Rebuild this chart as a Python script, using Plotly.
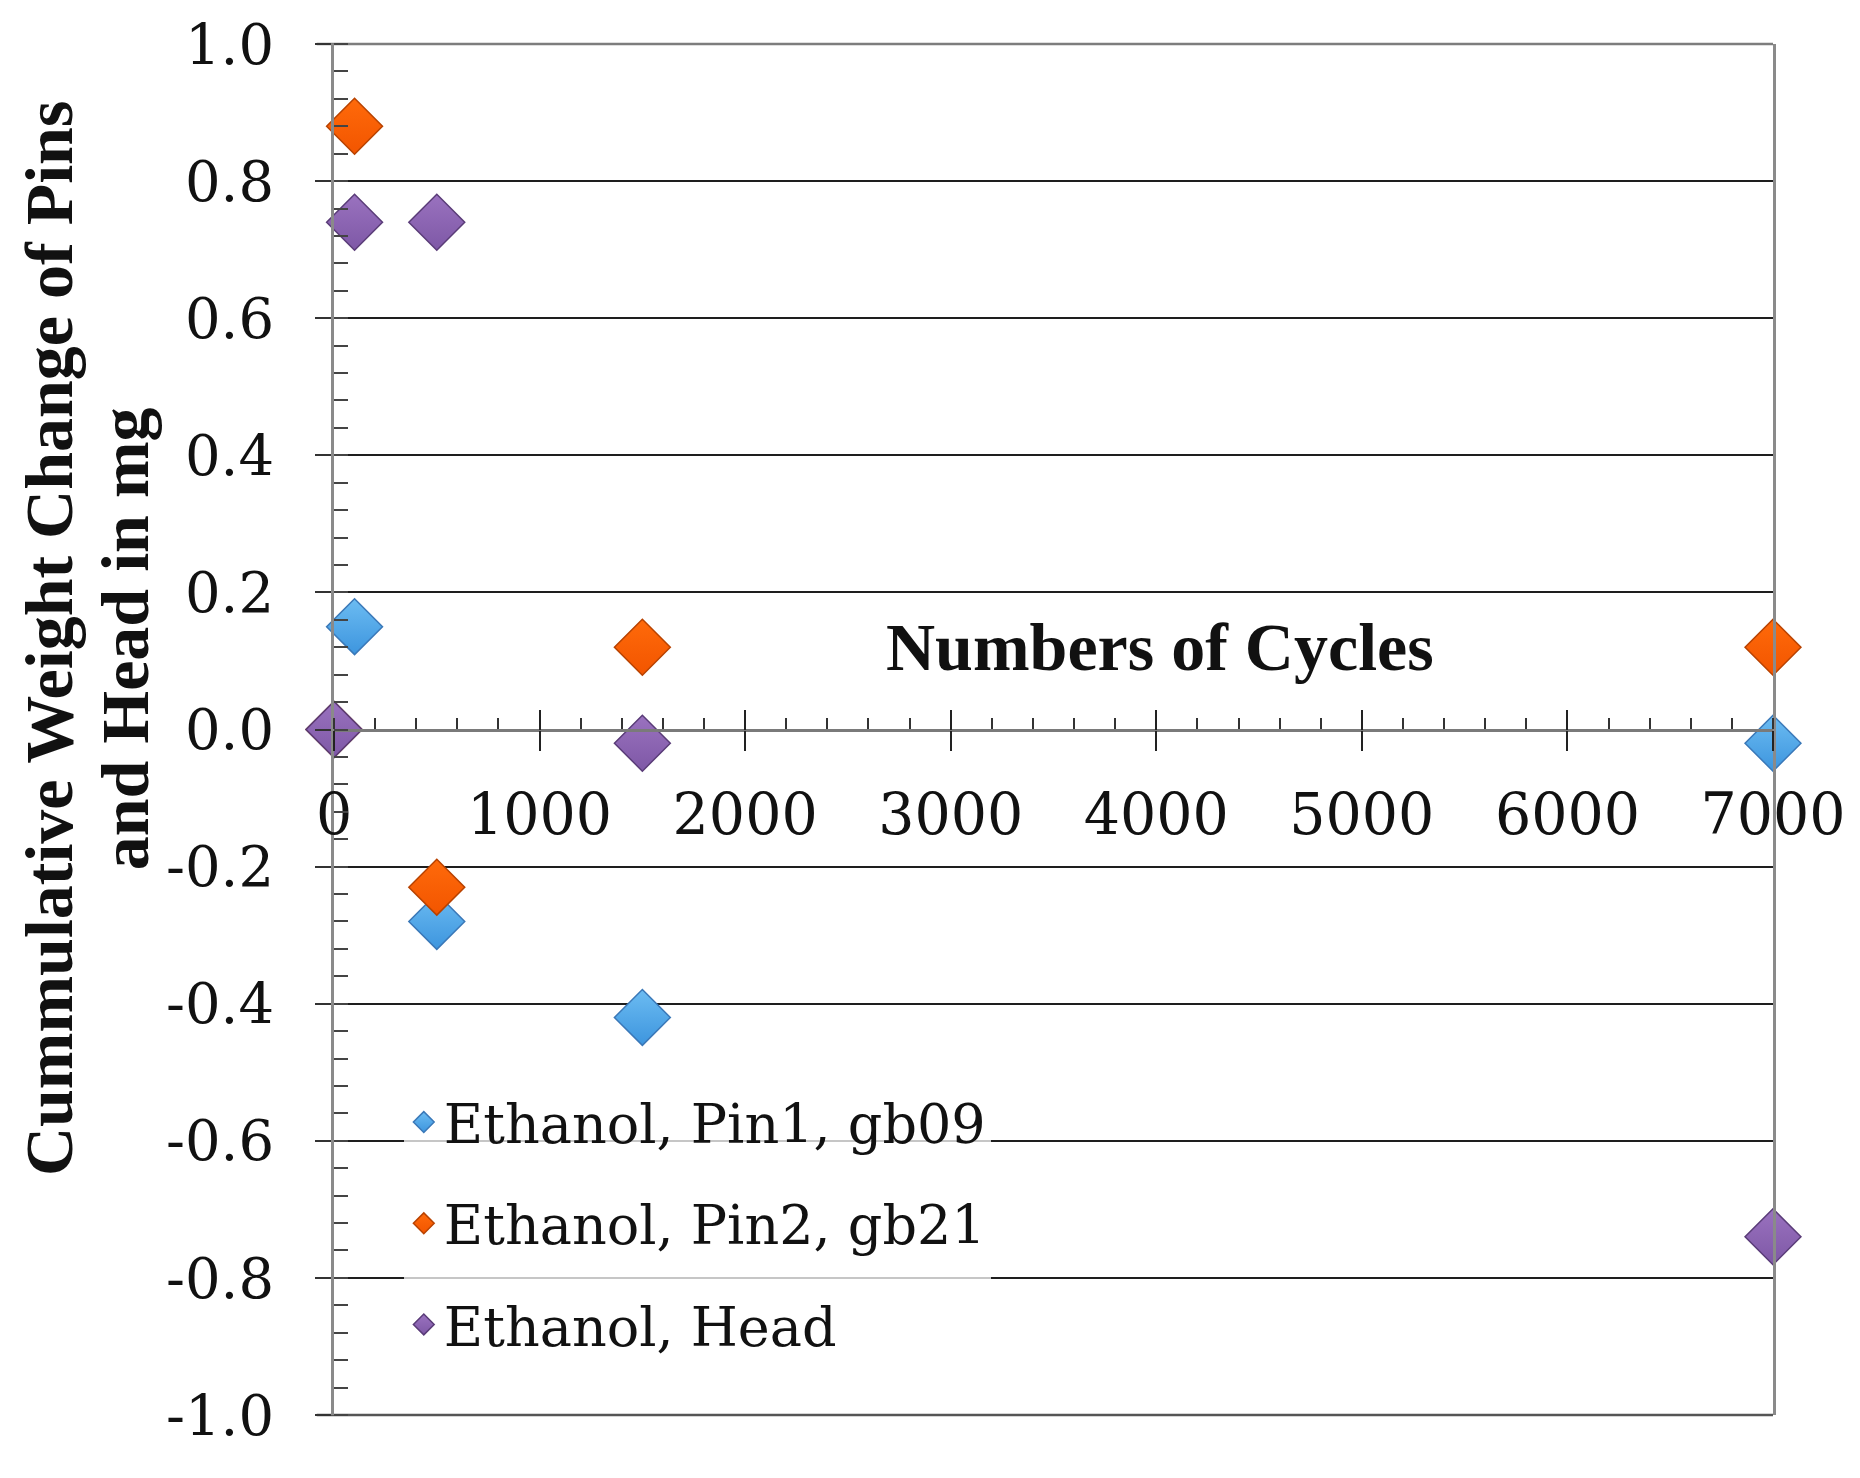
import plotly.graph_objects as go

# ---- data ----
cycles = [0, 100, 500, 1500, 7000]
pin1_gb09 = [0.0, 0.15, -0.28, -0.42, -0.02]
pin2_gb21 = [0.0, 0.88, -0.23, 0.12, 0.12]
head = [0.0, 0.74, 0.74, -0.02, -0.74]

series_names = ["Ethanol, Pin1, gb09", "Ethanol, Pin2, gb21", "Ethanol, Head"]
x_tick_vals = [0, 1000, 2000, 3000, 4000, 5000, 6000, 7000]
x_tick_text = ["0", "1000", "2000", "3000", "4000", "5000", "6000", "7000"]
y_tick_vals = [-1.0, -0.8, -0.6, -0.4, -0.2, 0.0, 0.2, 0.4, 0.6, 0.8, 1.0]
y_tick_text = ["-1.0", "-0.8", "-0.6", "-0.4", "-0.2", "0.0", "0.2", "0.4", "0.6", "0.8", "1.0"]

x_title = "Numbers of Cycles"
y_title_lines = ["Cummulative Weight Change of Pins", "and Head in mg"]

fills = ["#6cbcf2", "#ff6a0a", "#9a72bf"]
ends = ["#3d95de", "#f25500", "#7e58a6"]
borders = ["#3a78b8", "#b84200", "#5a3c78"]

SERIF = "DejaVu Serif"
TITLE_FONT = "Liberation Serif"

fig = go.Figure()
for name, ys, fc, ec, bc in zip(series_names, [pin1_gb09, pin2_gb21, head], fills, ends, borders):
    fig.add_trace(go.Scatter(
        x=cycles, y=ys, mode="markers", name=name, legendgroup=name,
        cliponaxis=False,
        marker=dict(symbol="diamond", size=43, color=fc,
                    gradient=dict(type="vertical", color=ec),
                    line=dict(color=bc, width=1.5)),
    ))

# secondary overlaying x axis, used only to make major x ticks cross the axis line
fig.add_trace(go.Scatter(x=[0, 7000], y=[0, 0], xaxis="x2", mode="markers",
                         marker=dict(opacity=0), showlegend=False, hoverinfo="skip"))

fig.update_layout(
    width=1860, height=1478,
    margin=dict(l=326, r=95, t=36, b=71, autoexpand=False),
    paper_bgcolor="white", plot_bgcolor="white",
    showlegend=True,
    legend=dict(x=0.0485, y=0.244, xanchor="left", yanchor="top",
                bgcolor="rgba(255,255,255,0.75)",
                font=dict(family=SERIF, size=54, color="#111"),
                traceorder="grouped", tracegroupgap=28,
                itemsizing="trace"),
    xaxis=dict(range=[0, 7000], anchor="free", position=0.5, automargin=False,
               tickvals=x_tick_vals, ticktext=x_tick_text,
               showgrid=False, zeroline=False,
               showline=True, linecolor="#7a7a7a", linewidth=2.5,
               ticks="outside", ticklen=20, tickwidth=2, tickcolor="#222",
               ticklabelstandoff=14, ticklabeloverflow="allow",
               tickfont=dict(family=SERIF, size=57, color="#111"),
               minor=dict(dtick=200, ticks="inside", ticklen=11, tickwidth=1.5,
                          tickcolor="#333", showgrid=False)),
    xaxis2=dict(range=[0, 7000], overlaying="x", anchor="free", position=0.5,
                automargin=False,
                tickvals=x_tick_vals, showticklabels=False, showgrid=False,
                zeroline=False, showline=False,
                ticks="inside", ticklen=20, tickwidth=2, tickcolor="#222"),
    yaxis=dict(range=[-1.0, 1.0], tickvals=y_tick_vals, ticktext=y_tick_text,
               automargin=False,
               showgrid=True, gridcolor="#1e1e1e", gridwidth=1.6,
               zeroline=False,
               showline=True, mirror=True, linecolor="#8a8a8a", linewidth=2.5,
               ticks="outside", ticklen=16, tickwidth=2, tickcolor="#333",
               ticklabelstandoff=30, ticklabeloverflow="allow",
               tickfont=dict(family=SERIF, size=56, color="#111"),
               minor=dict(dtick=0.04, ticks="inside", ticklen=14, tickwidth=1.5,
                          tickcolor="#444", showgrid=False)),
    shapes=[
        dict(type="line", xref="paper", yref="paper", x0=-0.012, x1=1, y0=1, y1=1,
             line=dict(color="#7d7d7d", width=2.5), layer="below"),
        dict(type="line", xref="paper", yref="paper", x0=-0.012, x1=1, y0=0, y1=0,
             line=dict(color="#555555", width=2.5), layer="below"),
    ],
    annotations=[
        dict(text="<b>" + x_title + "</b>", xref="paper", yref="paper",
             x=0.574, y=0.5605, xanchor="center", yanchor="middle", showarrow=False,
             font=dict(family=TITLE_FONT, size=68, color="#111")),
        dict(text="<b>" + y_title_lines[0] + "</b>", xref="paper", yref="paper",
             x=-0.198, y=0.566, xanchor="center", yanchor="middle", showarrow=False,
             textangle=-90,
             font=dict(family=TITLE_FONT, size=68, color="#111")),
        dict(text="<b>" + y_title_lines[1] + "</b>", xref="paper", yref="paper",
             x=-0.145, y=0.566, xanchor="center", yanchor="middle", showarrow=False,
             textangle=-90,
             font=dict(family=TITLE_FONT, size=68, color="#111")),
    ],
)

fig.write_html("out.html")
